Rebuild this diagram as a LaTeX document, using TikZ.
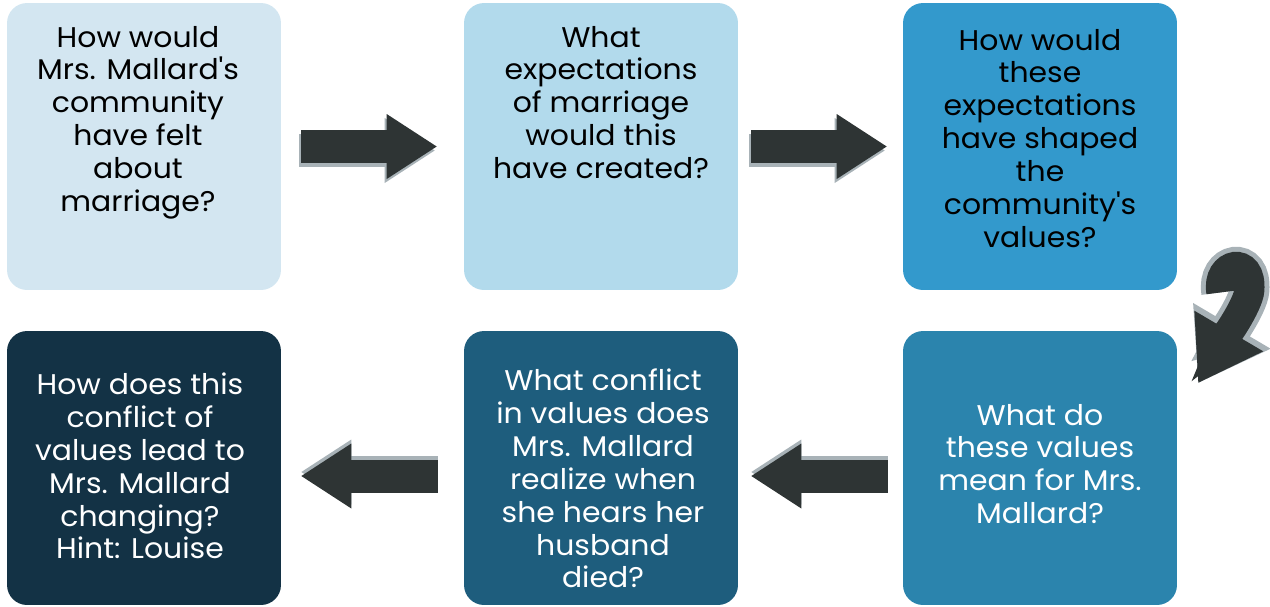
\documentclass[tikz,border=0pt]{standalone}
\usepackage{fontspec}
\setmainfont{Poppins}[FakeStretch=1.05]
\usepackage{xcolor}
\usepackage{tikz}
\usetikzlibrary{calc,arrows.meta}

\definecolor{boxpale}{HTML}{D3E6F1}
\definecolor{boxlight}{HTML}{B2DAEC}
\definecolor{boxmid}{HTML}{3399CC}
\definecolor{boxsteel}{HTML}{2B84AD}
\definecolor{boxdeep}{HTML}{1E5D7D}
\definecolor{boxnight}{HTML}{133245}
\definecolor{arrowdark}{HTML}{2E3434}
\definecolor{shadegray}{HTML}{A8B2B7}

\begin{document}
\begin{tikzpicture}[x=0.02cm,y=-0.02cm,
    qbox/.style={rounded corners=0.4cm,minimum width=5.48cm,inner sep=0pt},
    qtop/.style={qbox,minimum height=5.74cm},
    qbot/.style={qbox,minimum height=5.48cm},
    qtext/.style={anchor=north,align=center,inner sep=0pt,
        font=\fontsize{16.2}{18.7}\selectfont},
    blockarrow/.style={draw=arrowdark,line width=0.66cm,
        -{Triangle[length=1cm,width=1.3cm,line width=0pt]}},
    blockshade/.style={blockarrow,draw=shadegray},
    curvearrow/.style={draw=arrowdark,line width=0.6cm,
        -{Triangle[length=1.2cm,width=1.6cm,line width=0pt]}},
    curveshade/.style={draw=shadegray,line width=0.8cm,
        -{Triangle[length=1.32cm,width=1.8cm,line width=0pt]}}]
\useasboundingbox (0,0) rectangle (1270,606);

% question boxes
\node[qtop,fill=boxpale] (q1) at (144,146.5) {};
\node[qtop,fill=boxlight] (q2) at (601,146.5) {};
\node[qtop,fill=boxmid] (q3) at (1040,146.5) {};
\node[qbot,fill=boxsteel] (q4) at (1040,468) {};
\node[qbot,fill=boxdeep] (q5) at (601,468) {};
\node[qbot,fill=boxnight] (q6) at (144,468) {};

\node[qtext] (t1) at ($(q1.north)+(-6,23)$) {How would\\Mrs. Mallard\textquotesingle s\\community\\have felt\\about\\marriage?};
\node[qtext] (t2) at ($(q2.north)+(0,23)$) {What\\expectations\\of marriage\\would this\\have created?};
\node[qtext] (t3) at ($(q3.north)+(0,26)$) {How would\\these\\expectations\\have shaped\\the\\community\textquotesingle s\\values?};
\node[qtext,text=white] (t4) at ($(q4.north)+(0,73)$) {What do\\these values\\mean for Mrs.\\Mallard?};
\node[qtext,text=white] (t5) at ($(q5.north)+(2,38)$) {What conflict\\in values does\\Mrs. Mallard\\realize when\\she hears her\\husband\\died?};
\node[qtext,text=white] (t6) at ($(q6.north)+(-4,42)$) {How does this\\conflict of\\values lead to\\Mrs. Mallard\\changing?\\Hint: Louise};

% block arrows
\draw[blockshade] ($(q1.east)+(18,4)$) -- ($(q2.west)+(-29,4)$);
\draw[blockarrow] ($(q1.east)+(20,0)$) -- ($(q2.west)+(-27,0)$);
\draw[blockshade] ($(q2.east)+(11,4)$) -- ($(q3.west)+(-18,4)$);
\draw[blockarrow] ($(q2.east)+(13,0)$) -- ($(q3.west)+(-16,0)$);
\draw[blockshade] ($(q4.west)+(-15,4)$) -- ($(q5.east)+(13,4)$);
\draw[blockarrow] ($(q4.west)+(-15,8)$) -- ($(q5.east)+(13,8)$);
\draw[blockshade] ($(q5.west)+(-26,4)$) -- ($(q6.east)+(20,4)$);
\draw[blockarrow] ($(q5.west)+(-26,8)$) -- ($(q6.east)+(20,8)$);

% curved arrow down the right side
\coordinate (hook) at ($(q3.south east)+(44,2)$);
\coordinate (bend) at ($(q3.south east)+(72,0)$);
\coordinate (tip) at ($(q4.north east)+(21,52)$);
\draw[curveshade,xshift=-0.08cm,yshift=0.08cm] (hook) .. controls +(-5,-30) and +(3,-35) .. (bend) .. controls +(-1,15) and +(23,-39) .. (tip);
\draw[curvearrow] (hook) .. controls +(-5,-30) and +(3,-35) .. (bend) .. controls +(-1,15) and +(23,-39) .. (tip);
\end{tikzpicture}
\end{document}
